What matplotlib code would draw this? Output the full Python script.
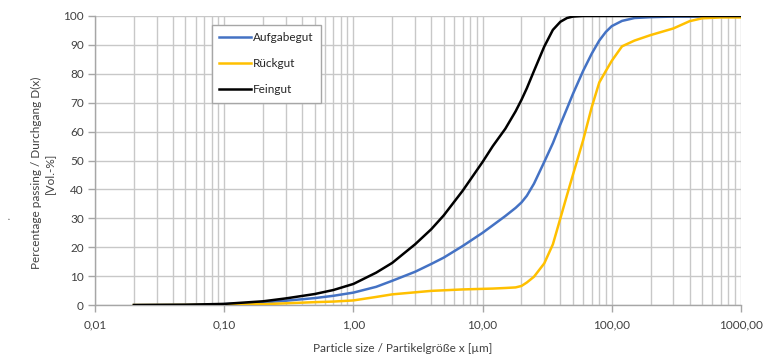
import matplotlib
matplotlib.use("Agg")
import matplotlib.pyplot as plt
from matplotlib.ticker import FixedLocator, LogLocator, NullFormatter

plt.rcParams['font.family'] = ['Lato', 'DejaVu Sans']

# particle size grid [µm]
sizes = [0.02, 0.05, 0.1, 0.2, 0.3, 0.5, 0.7, 1, 1.5, 2, 3, 4, 5, 7, 10, 12, 15, 18, 20,
         22, 25, 30, 35, 40, 45, 50, 60, 70, 80, 90, 100, 120, 150, 200, 300, 400, 500, 700, 1000]

# cumulative passing [Vol.-%]
aufgabegut = [0, 0.1, 0.3, 0.9, 1.5, 2.4, 3.2, 4.3, 6.3, 8.4, 11.5, 14.2, 16.4, 20.4, 25.0, 27.6, 30.8, 33.6, 35.5,
              37.8, 42.0, 49.5, 56.0, 62.5, 68.0, 73.0, 81.0, 87.0, 91.5, 94.5, 96.5, 98.3, 99.3, 99.6, 99.8, 99.8, 99.8, 99.8, 99.8]
rueckgut = [0, 0.05, 0.1, 0.3, 0.6, 1.0, 1.2, 1.6, 2.8, 3.7, 4.4, 4.9, 5.1, 5.4, 5.6, 5.7, 5.9, 6.1, 6.6,
            7.8, 9.8, 14.4, 21.0, 30.0, 38.0, 45.0, 57.0, 68.5, 77.0, 81.0, 84.5, 89.5, 91.5, 93.4, 95.7, 98.2, 99.2, 99.5, 99.5]
feingut = [0, 0.1, 0.4, 1.3, 2.3, 3.8, 5.2, 7.3, 11.2, 14.6, 21.0, 26.2, 31.0, 39.5, 49.5, 55.0, 61.0, 67.0, 71.0,
           75.0, 81.0, 89.4, 95.2, 98.0, 99.3, 99.8, 100, 100, 100, 100, 100, 100, 100, 100, 100, 100, 100, 100, 100]

x_ticks = [0.01, 0.1, 1, 10, 100, 1000]
x_labels = ["0,01", "0,10", "1,00", "10,00", "100,00", "1000,00"]
y_ticks = list(range(0, 101, 10))

fig = plt.figure(figsize=(7.7, 3.61), dpi=100)
ax = fig.add_axes([0.1234, 0.155, 0.8389, 0.8007])

ax.plot(sizes, aufgabegut, color="#4472C4", lw=1.8, label="Aufgabegut", zorder=3)
ax.plot(sizes, rueckgut, color="#FFC000", lw=1.8, label="Rückgut", zorder=3)
ax.plot(sizes, feingut, color="#000000", lw=1.8, label="Feingut", zorder=4)

ax.set_xscale("log")
ax.set_xlim(0.01, 1000)
ax.set_ylim(0, 100)
ax.xaxis.set_major_locator(FixedLocator(x_ticks))
ax.set_xticklabels(x_labels)
ax.xaxis.set_minor_locator(LogLocator(base=10, subs=range(2, 10), numticks=20))
ax.xaxis.set_minor_formatter(NullFormatter())
ax.set_yticks(y_ticks)

ax.grid(True, which="major", color="#c8c8c8", lw=1)
ax.grid(True, which="minor", axis="x", color="#c8c8c8", lw=1)
ax.set_axisbelow(True)

for side in ["top", "right"]:
    ax.spines[side].set_visible(False)
for side in ["left", "bottom"]:
    ax.spines[side].set_color("#a6a6a6")
    ax.spines[side].set_linewidth(1)

ax.tick_params(axis="both", which="major", length=5, width=1, color="#a6a6a6",
               labelsize=8.5, labelcolor="#404040", pad=3)
ax.tick_params(axis="x", which="minor", length=0)
ax.tick_params(axis="x", which="major", pad=5)

ax.set_xlabel("Particle size / Partikelgröße x [µm]", fontsize=8.5, color="#404040")
ax.xaxis.set_label_coords(0.477, -0.13)
ax.set_ylabel("Percentage passing / Durchgang D(x)\n[Vol.-%]", fontsize=8.5,
              color="#404040", linespacing=1.25)
ax.yaxis.set_label_coords(-0.062, 0.457)

fig.text(0.011, 0.395, "'", fontsize=6, color="#404040", rotation=90)

leg = ax.legend(loc="upper left", bbox_to_anchor=(0.181, 0.97), fontsize=8.5,
                frameon=True, fancybox=False, edgecolor="#a6a6a6", framealpha=1,
                handlelength=2.7, handletextpad=0.2, labelspacing=1.3,
                borderpad=0.6, borderaxespad=0)
leg.get_frame().set_linewidth(1)
for t in leg.get_texts():
    t.set_color("#262626")

fig.savefig("out.png", dpi=100)
